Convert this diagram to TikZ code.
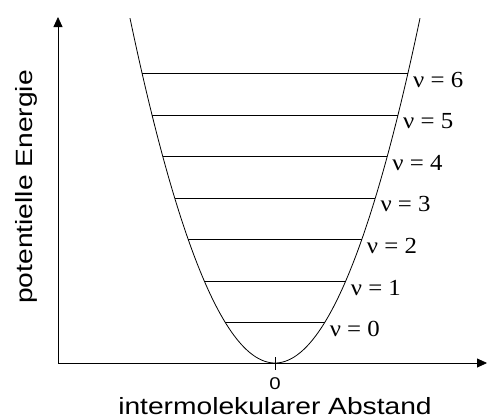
\documentclass[tikz,border=0pt]{standalone}
\usepackage{fontspec}
\setmainfont{Liberation Serif}
\setsansfont{Liberation Sans}
\newfontfamily\widesans[FakeStretch=1.2]{Liberation Sans}
\newfontfamily\wideserif[FakeStretch=1.08]{Liberation Serif}
\usetikzlibrary{arrows.meta}
\tikzset{
  axis/.style={line width=0.8pt, -{Triangle[length=10pt,width=9pt]}},
  curve/.style={line width=0.8pt},
  level/.style={line width=0.7pt},
  vlabel/.style={anchor=west, inner sep=0pt, font=\wideserif\fontsize{23}{24}\selectfont},
  axlabel/.style={font=\widesans\fontsize{23.5}{25}\selectfont, inner sep=0pt, anchor=base},
  ticklabel/.style={font=\widesans\fontsize{17}{18}\selectfont, inner sep=0pt}
}
\begin{document}
\begin{tikzpicture}[x=1pt,y=-1pt]
\useasboundingbox (0,0) rectangle (487,418);
\coordinate (O) at (58,363);
\coordinate (Ytop) at (58,17);
\coordinate (Xend) at (487,363);
\coordinate (V) at (275,363);
\draw[axis] (O) -- (Ytop);
\draw[axis] (O) -- (Xend);
\coordinate (T1) at (275,357);
\coordinate (T2) at (275,370);
\draw[line width=0.7pt] (T1) -- (T2);
\node[ticklabel] (zero) at (275,384) {0};
\node[axlabel] (xlab) at (275,414) {intermolekularer Abstand};
\node[axlabel, rotate=90] (ylab) at (32,187) {potentielle Energie};
\draw[curve] plot[domain=-145:145, samples=121, smooth] ({275+\x},{363-1.64*(\x/10)*(\x/10)});
\foreach \v in {0,...,6}{
  \pgfmathsetmacro{\yy}{322.7-41.57*\v}
  \pgfmathsetmacro{\ww}{10*sqrt((363-\yy)/1.64)}
  \coordinate (L\v) at ({275-\ww},\yy);
  \coordinate (R\v) at ({275+\ww},\yy);
  \draw[level] (L\v) -- (R\v);
  \node[vlabel] (lab\v) at ([xshift=5pt,yshift=-6.5pt]R\v) {ν = \v};
}
\end{tikzpicture}
\end{document}
